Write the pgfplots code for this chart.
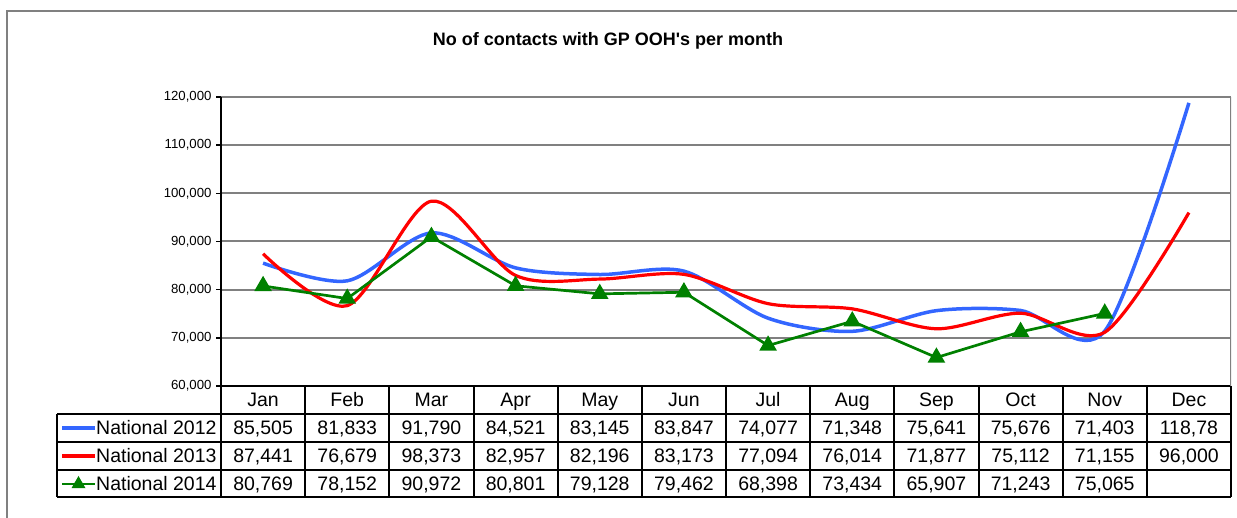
\documentclass[border=0pt]{standalone}
\usepackage{pgfplots}
\pgfplotsset{compat=1.18}
\usepackage{fontspec}
\setmainfont{Liberation Sans}
\definecolor{c12}{RGB}{51,102,255}
\definecolor{c13}{RGB}{255,0,0}
\definecolor{c14}{RGB}{0,128,0}
\definecolor{gridgray}{RGB}{128,128,128}
\newcommand{\tabfont}{\fontsize{19.5}{22}\selectfont}

\begin{document}
\begin{tikzpicture}[x=1pt,y=1pt]
\useasboundingbox (0,0) rectangle (1237,518);
% chart frame
\draw[gridgray, line width=2pt] (7,0) -- (7,507) -- (1237,507);
\node[font=\fontsize{18}{20}\selectfont\bfseries] at (608,477) {No of contacts with GP OOH\textquotesingle s per month};

\begin{axis}[
  at={(221pt,132pt)}, anchor=south west,
  scale only axis, width=1010pt, height=289pt,
  xmin=-0.5, xmax=11.5, ymin=60000, ymax=120000,
  ytick={60000,70000,...,120000}, xtick=\empty,
  scaled y ticks=false,
  axis x line*=bottom, axis y line*=left,
  axis line style={-, black, line width=2pt},
  tick align=outside, major tick length=5pt,
  tick style={black, line width=1.5pt},
  ymajorgrids, grid style={gridgray, line width=2pt},
  yticklabel style={font=\fontsize{13.2}{14}\selectfont, xshift=-1pt,
    /pgf/number format/.cd, fixed, 1000 sep={,}, assume math mode=true},
]
\addplot[c12, line width=3.5pt, smooth] coordinates {
  (0,85505) (1,81833) (2,91790) (3,84521) (4,83145) (5,83847)
  (6,74077) (7,71348) (8,75641) (9,75676) (10,71403) (11,118780)};
\addplot[c13, line width=3.2pt, smooth] coordinates {
  (0,87441) (1,76679) (2,98373) (3,82957) (4,82196) (5,83173)
  (6,77094) (7,76014) (8,71877) (9,75112) (10,71155) (11,96000)};
\addplot[c14, line width=2.7pt, mark=triangle*, mark size=7.5pt] coordinates {
  (0,80769) (1,78152) (2,90972) (3,80801) (4,79128) (5,79462)
  (6,68398) (7,73434) (8,65907) (9,71243) (10,75065)};
\draw[gridgray, line width=2pt] (rel axis cs:1,0) -- (rel axis cs:1,1);
\end{axis}

% data table
\begin{scope}[line width=2pt]
\foreach \k in {0,...,12}
  \draw ({221+\k*84.1667},132) -- ({221+\k*84.1667},21);
\draw (57,104) -- (1231,104);
\draw (57,76) -- (1231,76);
\draw (57,48) -- (1231,48);
\draw (57,21) -- (1231,21);
\draw (57,104) -- (57,21);
\end{scope}
\foreach \m [count=\i from 0] in {Jan,Feb,Mar,Apr,May,Jun,Jul,Aug,Sep,Oct,Nov,Dec}
  \node[font=\tabfont, anchor=base, inner sep=0pt] at ({221+(\i+0.5)*84.1667},111.3) {\m};
\foreach \v [count=\i from 0] in {{85,505},{81,833},{91,790},{84,521},{83,145},{83,847},{74,077},{71,348},{75,641},{75,676},{71,403},{118,78}}
  \node[font=\tabfont, anchor=base, inner sep=0pt] at ({221+(\i+0.5)*84.1667},83) {\v};
\foreach \v [count=\i from 0] in {{87,441},{76,679},{98,373},{82,957},{82,196},{83,173},{77,094},{76,014},{71,877},{75,112},{71,155},{96,000}}
  \node[font=\tabfont, anchor=base, inner sep=0pt] at ({221+(\i+0.5)*84.1667},55) {\v};
\foreach \v [count=\i from 0] in {{80,769},{78,152},{90,972},{80,801},{79,128},{79,462},{68,398},{73,434},{65,907},{71,243},{75,065}}
  \node[font=\tabfont, anchor=base, inner sep=0pt] at ({221+(\i+0.5)*84.1667},27) {\v};
% legend keys
\draw[c12, line width=3.5pt] (62,90) -- (95,90);
\draw[c13, line width=3.2pt] (62,62) -- (95,62);
\draw[c14, line width=2.7pt] (62,34) -- (95,34);
\fill[c14] (78.5,34) ++(90:8) -- ++(-120:14) -- ++(0:14) -- cycle;
\node[font=\tabfont, anchor=base west, inner sep=0pt] at (96,83) {National 2012};
\node[font=\tabfont, anchor=base west, inner sep=0pt] at (96,55) {National 2013};
\node[font=\tabfont, anchor=base west, inner sep=0pt] at (96,27) {National 2014};
\end{tikzpicture}
\end{document}
